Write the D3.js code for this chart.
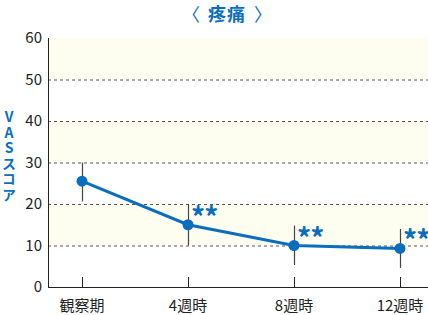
<!DOCTYPE html>
<html>
<head>
<meta charset="utf-8">
<script src="https://cdn.jsdelivr.net/npm/d3@7"></script>
<style>
  body { margin: 0; background: #fff; }
  svg text { font-family: "Noto Sans CJK JP", "Noto Sans", sans-serif; }
</style>
</head>
<body>
<svg id="chart" width="428" height="315"></svg>
<script>
// chart data
const categories = ["観察期", "4週時", "8週時", "12週時"];
const means = [25.5, 15, 10, 9.3];
const upper = [30, 20, 14.8, 14];
const lower = [20.6, 10, 5.3, 4.6];
const marks = ["", "**", "**", "**"];
const yTicks = [0, 10, 20, 30, 40, 50, 60];

const blue = "#0a6ebd";
const margin = { top: 38, right: 0, bottom: 28, left: 48 };
const width = 428 - margin.left - margin.right;
const height = 315 - margin.top - margin.bottom;

const svg = d3.select("#chart");
const g = svg.append("g").attr("transform", `translate(${margin.left},${margin.top})`);

const y = d3.scaleLinear().domain([0, 60]).range([height, 0]);
const x = d3.scalePoint().domain(categories).range([34, 352]);

// alternating bands
const bands = d3.range(0, 60, 10);
g.selectAll(".band")
    .data(bands.filter(d => (d / 10) % 2 === 1))
    .enter().append("rect")
    .attr("x", 0)
    .attr("width", width)
    .attr("y", d => y(d + 10))
    .attr("height", d => y(d) - y(d + 10))
    .attr("fill", "#fefef0");

// dashed grid
g.selectAll(".grid")
    .data(yTicks.filter(d => d > 0 && d < 60))
    .enter().append("line")
    .attr("x1", 0).attr("x2", width)
    .attr("y1", d => y(d) + 0.5).attr("y2", d => y(d) + 0.5)
    .attr("stroke", "#555")
    .attr("stroke-dasharray", "3,3");

// axes
g.append("line")
    .attr("x1", 0.5).attr("x2", 0.5)
    .attr("y1", 0).attr("y2", height)
    .attr("stroke", "#222");
g.append("line")
    .attr("x1", 0).attr("x2", width)
    .attr("y1", height + 0.5).attr("y2", height + 0.5)
    .attr("stroke", "#222");

g.selectAll(".ytick")
    .data(yTicks)
    .enter().append("text")
    .attr("x", -6)
    .attr("y", d => y(d))
    .attr("dy", "0.35em")
    .attr("text-anchor", "end")
    .attr("font-size", 15)
    .attr("fill", "#222")
    .text(d => d);

// x ticks and labels
g.selectAll(".xtick")
    .data(categories)
    .enter().append("line")
    .attr("x1", d => x(d) + 0.5).attr("x2", d => x(d) + 0.5)
    .attr("y1", height - 10).attr("y2", height)
    .attr("stroke", "#222");

g.selectAll(".xlabel")
    .data(categories)
    .enter().append("text")
    .attr("x", d => x(d))
    .attr("y", height + 24)
    .attr("text-anchor", "middle")
    .attr("font-size", 15)
    .attr("fill", "#222")
    .text(d => d);

// error bars
g.selectAll(".err")
    .data(categories)
    .enter().append("line")
    .attr("x1", d => x(d) + 0.5).attr("x2", d => x(d) + 0.5)
    .attr("y1", (d, i) => y(upper[i])).attr("y2", (d, i) => y(lower[i]))
    .attr("stroke", "#444")
    .attr("stroke-width", 1.2);

// mean line
const line = d3.line().x((d, i) => x(categories[i])).y(d => y(d));
g.append("path")
    .datum(means)
    .attr("d", line)
    .attr("fill", "none")
    .attr("stroke", blue)
    .attr("stroke-width", 3);

g.selectAll(".dot")
    .data(means)
    .enter().append("circle")
    .attr("cx", (d, i) => x(categories[i]))
    .attr("cy", d => y(d))
    .attr("r", 5.5)
    .attr("fill", blue);

// significance marks
g.selectAll(".sig")
    .data(marks)
    .enter().append("text")
    .attr("x", (d, i) => x(categories[i]) + 3)
    .attr("y", (d, i) => y(means[i]) + 3)
    .attr("font-size", 28)
    .attr("font-weight", "bold")
    .attr("letter-spacing", -1)
    .attr("fill", blue)
    .text(d => d);

// title
svg.append("text")
    .attr("x", 227)
    .attr("y", 21)
    .attr("text-anchor", "middle")
    .attr("font-size", 18)
    .attr("font-weight", "bold")
    .attr("letter-spacing", 1)
    .attr("fill", blue)
    .text("疼痛");
svg.append("text")
    .attr("x", 191)
    .attr("y", 21)
    .attr("text-anchor", "middle")
    .attr("font-size", 18)
    .attr("fill", blue)
    .text("〈");
svg.append("text")
    .attr("x", 263)
    .attr("y", 21)
    .attr("text-anchor", "middle")
    .attr("font-size", 18)
    .attr("fill", blue)
    .text("〉");

// vertical y label
svg.append("text")
    .attr("x", 9)
    .attr("y", 110)
    .attr("font-size", 14)
    .attr("font-weight", "bold")
    .attr("fill", blue)
    .style("writing-mode", "vertical-rl")
    .style("text-orientation", "upright")
    .attr("letter-spacing", 1.5)
    .text("VASスコア");
</script>
</body>
</html>
